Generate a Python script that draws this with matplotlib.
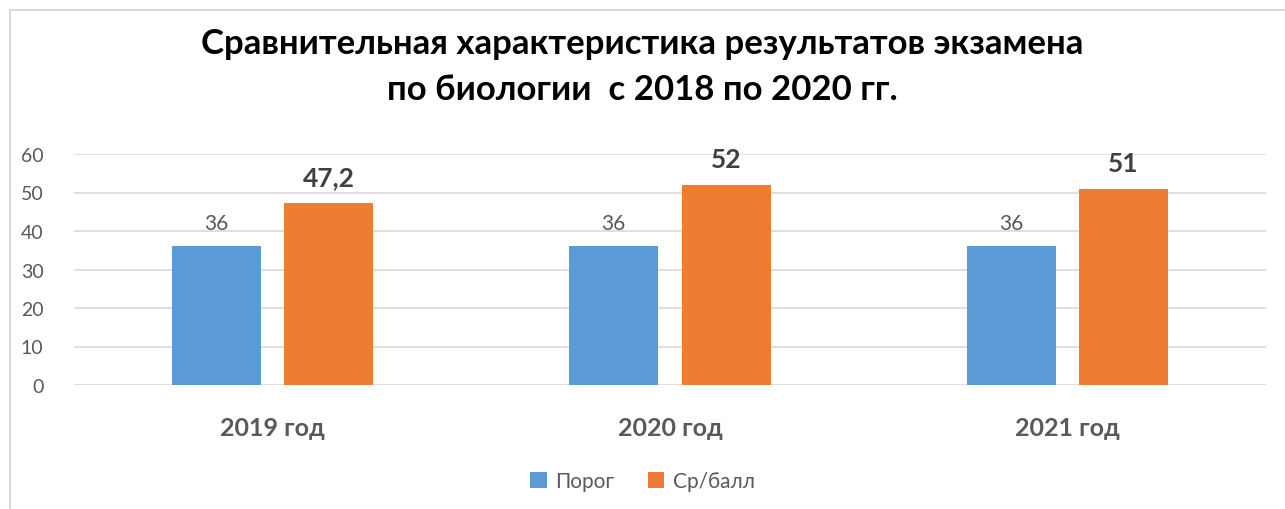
import matplotlib.pyplot as plt
from matplotlib.patches import Rectangle
import numpy as np

plt.rcParams['font.family'] = ['Lato', 'DejaVu Sans']

categories = ['2019 год', '2020 год', '2021 год']
porog = [36, 36, 36]
sr_ball = [47.2, 52, 51]
sr_labels = ['47,2', '52', '51']
series_names = ['Порог', 'Ср/балл']
title = 'Сравнительная характеристика результатов экзамена\nпо биологии  с 2018 по 2020 гг.'

blue = '#5B9BD5'
orange = '#ED7D31'
grey = '#595959'

fig = plt.figure(figsize=(12.85, 5.1), dpi=100)
# chart frame
fig.patches.append(Rectangle((10 / 1285, -0.1), 1.2, 1 - 11 / 510 + 0.1,
                             transform=fig.transFigure, fill=False,
                             edgecolor='#d9d9d9', linewidth=1.5))

ax = fig.add_axes([74 / 1285, 1 - 386 / 510, (1266 - 74) / 1285, (386 - 155) / 510])
x = np.arange(len(categories))
w = 0.224
off = 0.1415
b1 = ax.bar(x - off, porog, w, color=blue, label=series_names[0], zorder=3)
b2 = ax.bar(x + off, sr_ball, w, color=orange, label=series_names[1], zorder=3)

for xi, v in zip(x, porog):
    ax.annotate(str(v), (xi - off, v), xytext=(0, 10), textcoords='offset points',
                ha='center', va='bottom', fontsize=15, color=grey)
for xi, v, lab in zip(x, sr_ball, sr_labels):
    ax.annotate(lab, (xi + off, v), xytext=(0, 10), textcoords='offset points',
                ha='center', va='bottom', fontsize=19, fontweight='bold', color='#404040')

ax.set_xlim(-0.5, 2.5)
ax.set_ylim(0, 60)
ax.set_yticks(range(0, 61, 10))
ax.yaxis.grid(True, color='#d9d9d9', linewidth=1.2, zorder=0)
ax.set_axisbelow(True)
for s in ax.spines.values():
    s.set_visible(False)
ax.tick_params(axis='y', length=0, labelsize=14, labelcolor=grey, pad=22)
ax.set_xticks(x)
ax.set_xticklabels(categories, fontsize=18, fontweight='bold', color=grey)
ax.tick_params(axis='x', length=0, pad=22)

fig.text(0.5, 1 - 67 / 510, title, ha='center', va='center', fontsize=25,
         fontweight='bold', color='black', linespacing=1.5)

ax.legend(loc='center', bbox_to_anchor=(0.5, 1 - 482 / 510), bbox_transform=fig.transFigure,
          ncol=2, frameon=False, fontsize=15, labelcolor=grey, handlelength=0.8,
          handleheight=0.8, handletextpad=0.4, columnspacing=1.6)

fig.savefig('out.png', dpi=100)
